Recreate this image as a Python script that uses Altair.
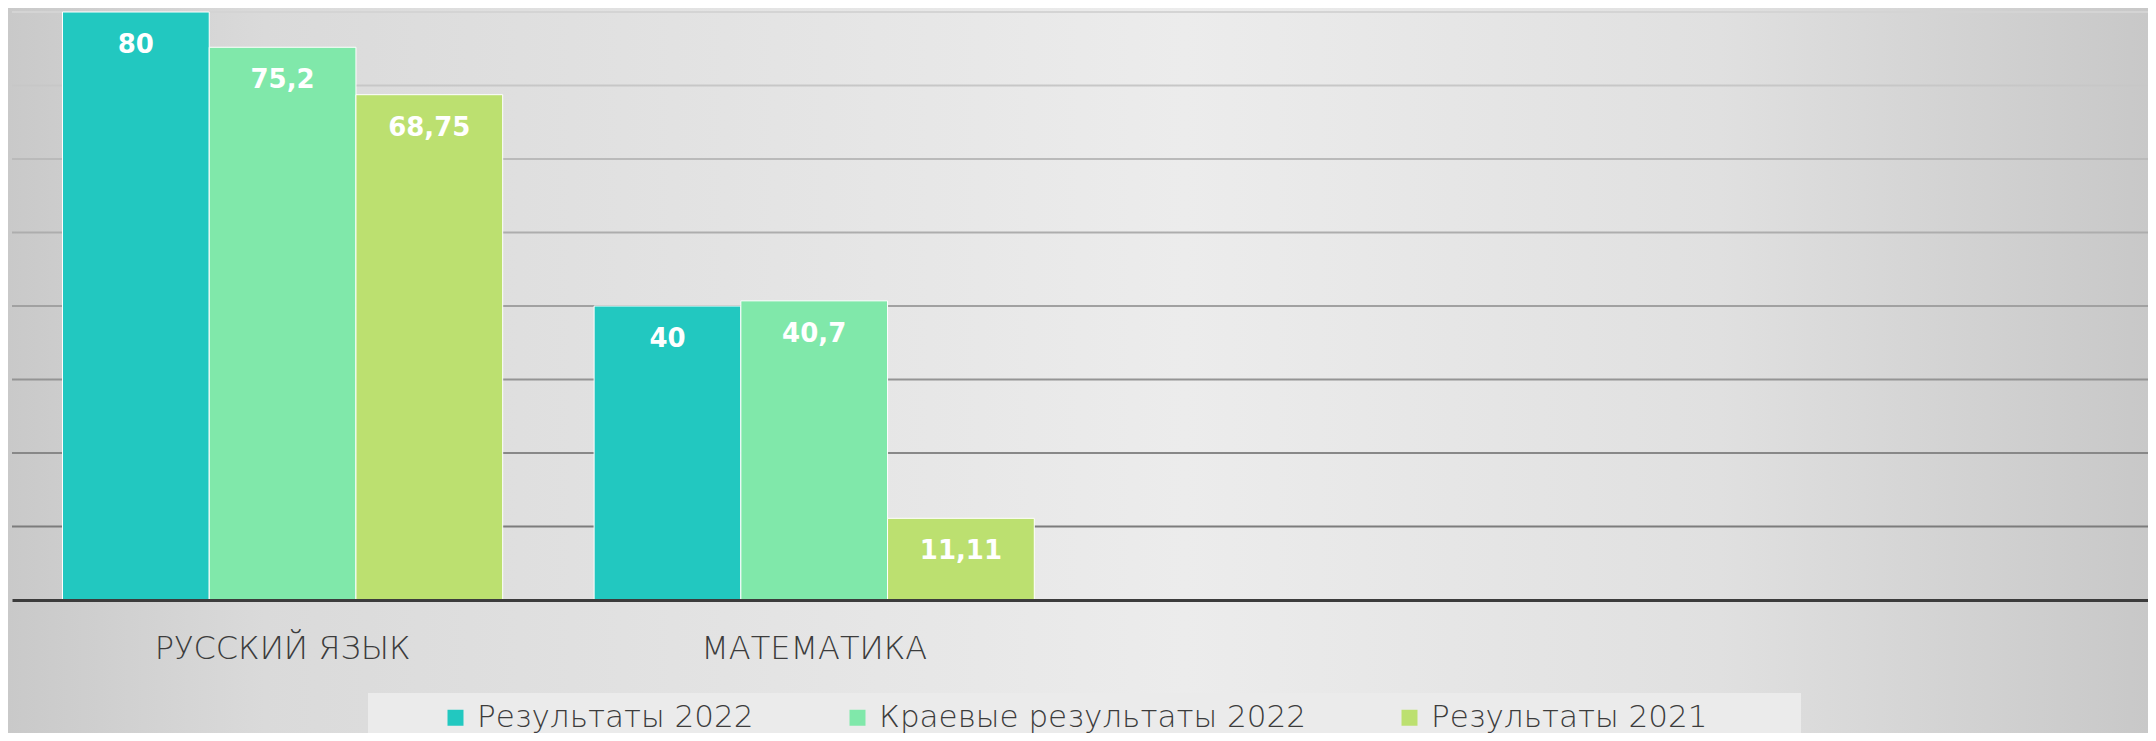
import altair as alt
import pandas as pd

# ---- data ----
subjects = ["РУССКИЙ ЯЗЫК", "МАТЕМАТИКА"]
empty_slots = [" ", "  "]          # two unused category slots on the right
series = ["Результаты 2022", "Краевые результаты 2022", "Результаты 2021"]
russian_values = [80, 75.2, 68.75]
math_values = [40, 40.7, 11.11]
grid_values = [10, 20, 30, 40, 50, 60, 70, 80]
series_colors = ["#22C8C0", "#80E8AA", "#BCE070"]

rows = []
for subj, vals in zip(subjects, [russian_values, math_values]):
    for s, v in zip(series, vals):
        rows.append({"subject": subj, "series": s, "value": v})
df = pd.DataFrame(rows)
df["label"] = df["value"].map(lambda v: f"{v:g}".replace(".", ","))
grid_df = pd.DataFrame({"v": grid_values})

W, H = 2136, 588
FONT = "DejaVu Sans"
TEXT_COLOR = "#3c3c3c"

y_scale = alt.Scale(domain=[0, 80], nice=False, zero=True)

x_enc = alt.X(
    "subject:N",
    scale=alt.Scale(domain=subjects + empty_slots, paddingInner=0.172, paddingOuter=0.095),
    axis=alt.Axis(
        title=None, labelAngle=0, labelFontSize=32, labelFont=FONT, labelFontWeight=300,
        labelColor=TEXT_COLOR, labelPadding=33, labelLimit=0, ticks=False, grid=False,
        domainColor="#3c3c3c", domainWidth=3, zindex=1,
    ),
)
xoff = alt.XOffset("series:N", scale=alt.Scale(domain=series, paddingInner=0, paddingOuter=0))
y_enc = alt.Y("value:Q", scale=y_scale, axis=None)

bg_gradient = alt.LinearGradient(
    gradient="linear",
    stops=[
        alt.GradientStop(offset=0, color="#c9c9c9"),
        alt.GradientStop(offset=0.12, color="#dadada"),
        alt.GradientStop(offset=0.55, color="#ececec"),
        alt.GradientStop(offset=0.8, color="#e0e0e0"),
        alt.GradientStop(offset=1, color="#c8c8c8"),
    ],
    x1=0, x2=1, y1=0, y2=0,
)

background = alt.Chart(alt.Data(values=[{}])).mark_rect(fill=bg_gradient).encode(
    x=alt.value(-4), x2=alt.value(W), y=alt.value(-4), y2=alt.value(H + 140)
)

legend_box = alt.Chart(alt.Data(values=[{}])).mark_rect(fill="#ebebeb").encode(
    x=alt.value(356), x2=alt.value(1789), y=alt.value(681), y2=alt.value(H + 140)
)

rules = alt.Chart(grid_df).mark_rule(strokeWidth=2).encode(
    y=alt.Y("v:Q", scale=y_scale, axis=None),
    stroke=alt.Stroke("v:Q", scale=alt.Scale(domain=[10, 80], range=["#7c7c7c", "#d4d4d4"]), legend=None),
)

bars = alt.Chart(df).mark_bar(stroke="white", strokeWidth=1).encode(
    x=x_enc,
    xOffset=xoff,
    y=y_enc,
    color=alt.Color(
        "series:N",
        scale=alt.Scale(domain=series, range=series_colors),
        legend=alt.Legend(
            title=None, orient="none", legendX=428, legendY=690, direction="horizontal",
            symbolType="square", symbolSize=256, symbolStrokeWidth=0,
            labelFontSize=31, labelFont=FONT, labelFontWeight=300, labelColor=TEXT_COLOR,
            labelOffset=6, columnPadding=88, padding=0, labelLimit=1000,
        ),
    ),
)

labels = alt.Chart(df).mark_text(
    color="white", font=FONT, fontWeight="bold", fontSize=26, baseline="middle", dy=33
).encode(x=x_enc, xOffset=xoff, y=y_enc, text="label:N")

chart = alt.layer(background, legend_box, rules, bars, labels).properties(
    width=W,
    height=H,
    padding={"left": 4, "top": 4, "right": 0, "bottom": 133},
    autosize=alt.AutoSizeParams(type="none"),
    background="#dedede",
).configure_view(strokeWidth=0)

chart.save("out.html", embed_options={"renderer": "svg", "actions": False})
